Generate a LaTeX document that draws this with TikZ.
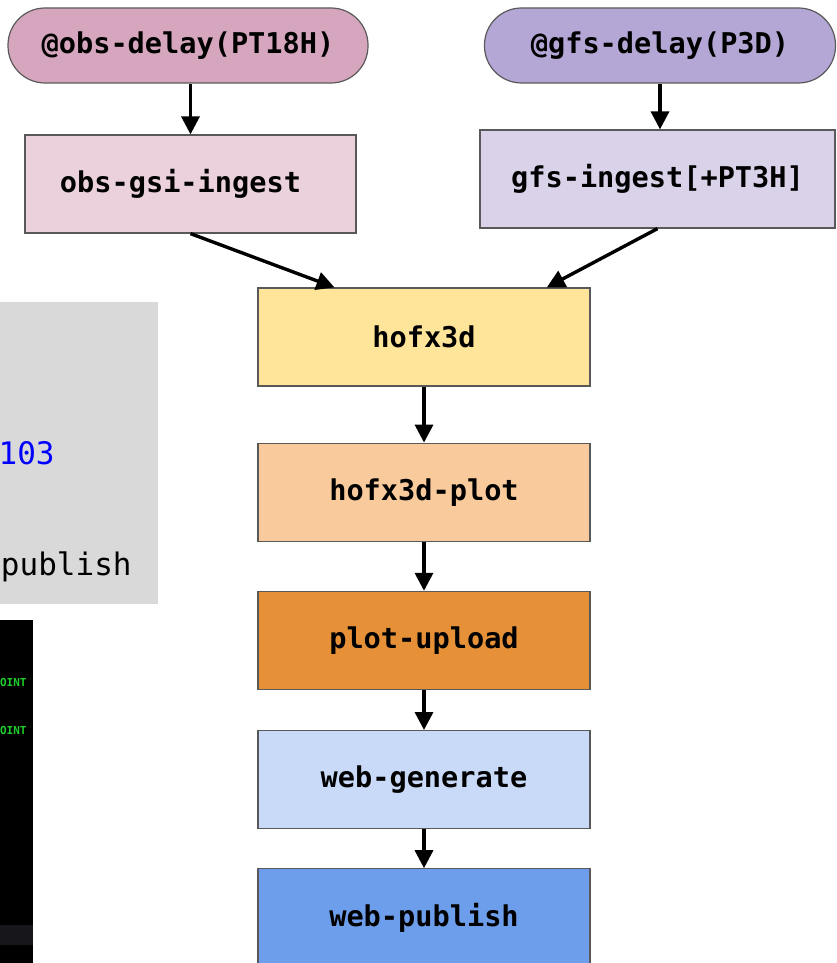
\documentclass[tikz,border=0pt]{standalone}
\usepackage{fontspec}
\setmonofont{DejaVu Sans Mono}
\usepackage{tikz}
\usetikzlibrary{positioning}
\usetikzlibrary{arrows.meta}

\definecolor{edgegrey}{HTML}{595959}
\definecolor{obsdelay}{HTML}{D5A6BD}
\definecolor{gfsdelay}{HTML}{B4A7D6}
\definecolor{obsingest}{HTML}{EAD1DC}
\definecolor{gfsingest}{HTML}{D9D2E9}
\definecolor{hofx}{HTML}{FFE599}
\definecolor{hofxplot}{HTML}{F9CB9C}
\definecolor{upload}{HTML}{E69138}
\definecolor{webgen}{HTML}{C9DAF8}
\definecolor{webpub}{HTML}{6D9EEB}
\definecolor{shotgrey}{HTML}{D9D9D9}
\definecolor{termgreen}{HTML}{1FCC2A}
\definecolor{termband}{HTML}{16161B}

\begin{document}
\begin{tikzpicture}[x=0.5pt,y=-0.5pt]
\tikzstyle{task}=[draw=edgegrey,line width=0.6pt,minimum width=166pt,minimum height=49pt,inner sep=0pt,font=\ttfamily\bfseries\fontsize{14.3}{17}\selectfont]
\tikzstyle{trigger}=[task,rounded corners=18.5pt,minimum height=37.5pt]
\tikzstyle{flow}=[-{Triangle[length=9pt,width=9pt]},line width=1.7pt]
\clip (0,0) rectangle (836,963);

% bits of screenshots on the left
\fill[shotgrey] (0,302) rectangle (158,604);
\node[anchor=east,inner sep=0pt,text=blue,font=\ttfamily\fontsize{15.5}{18}\selectfont] (num) at (55,453) {103};
\node[anchor=east,inner sep=0pt,font=\ttfamily\fontsize{15.5}{18}\selectfont] (pub) at (132,567) {publish};
\fill[black] (0,620) rectangle (33,963);
\fill[termband] (0,925) rectangle (33,945);
\node[anchor=east,inner sep=0pt,text=termgreen,font=\ttfamily\bfseries\fontsize{5.5}{6}\selectfont] (log1) at (27,682) {OINT};
\node[anchor=east,inner sep=0pt,text=termgreen,font=\ttfamily\bfseries\fontsize{5.5}{6}\selectfont] (log2) at (27,730) {OINT};

% triggers and ingest
\node[trigger,fill=obsdelay,minimum width=180pt] (obsdelay) at (188,45.5) {@obs-delay(PT18H)};
\node[trigger,fill=gfsdelay,minimum width=175.5pt] (gfsdelay) at (660,45.5) {@gfs-delay(P3D)};
\node[task,fill=obsingest,minimum width=165.5pt] (obsgsi) at (190.5,184) {obs-gsi-ingest\hspace*{10pt}};
\node[task,fill=gfsingest,minimum width=177.5pt] (gfsingest) at (657.5,179) {gfs-ingest[+PT3H]};

% main chain
\node[task,fill=hofx] (hofx3d) at (424,337) {hofx3d};
\node[task,fill=hofxplot,below=28pt of hofx3d] (hofxplot) {hofx3d-plot};
\node[task,fill=upload,below=24.5pt of hofxplot] (plotupload) {plot-upload};
\node[task,fill=webgen,below=20pt of plotupload] (webgen) {web-generate};
\node[task,fill=webpub,below=19.5pt of webgen] (webpub) {web-publish};

\draw[flow] (obsgsi.north |- obsdelay.south) -- (obsgsi.north);
\draw[flow] (gfsdelay.south) -- (gfsdelay.south |- gfsingest.north);
\draw[flow] (obsgsi.south) -- (hofx3d.151);
\draw[flow] (gfsingest.south) -- (hofx3d.22);
\draw[flow] (hofx3d) -- (hofxplot);
\draw[flow] (hofxplot) -- (plotupload);
\draw[flow] (plotupload) -- (webgen);
\draw[flow] (webgen) -- (webpub);
\end{tikzpicture}
\end{document}
